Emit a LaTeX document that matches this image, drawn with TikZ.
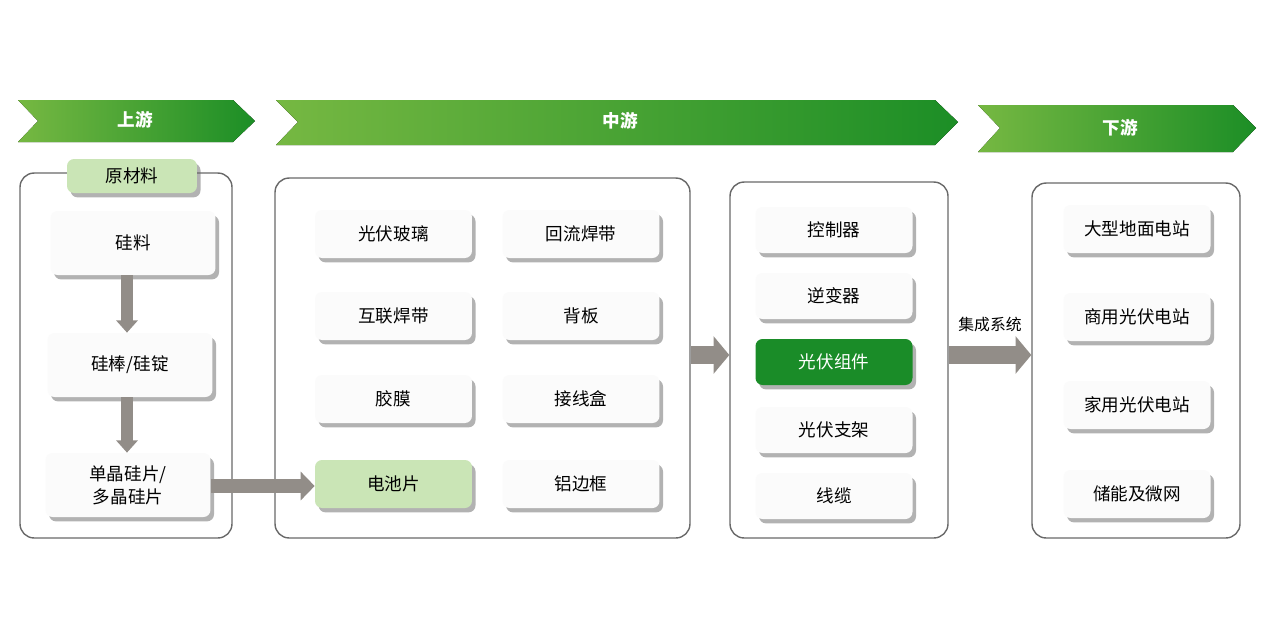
\documentclass[tikz,border=0pt]{standalone}
\usepackage{fontspec}
\setmainfont{Noto Sans CJK SC}
\usetikzlibrary{shadows,arrows.meta}
\definecolor{bandlight}{RGB}{118,184,66}
\definecolor{banddark}{RGB}{28,142,38}
\definecolor{leafgreen}{RGB}{202,229,182}
\definecolor{modgreen}{RGB}{26,140,40}
\definecolor{arrowgray}{RGB}{146,141,136}
\definecolor{framegray}{RGB}{105,105,105}
\tikzset{
  band/.style={left color=bandlight, right color=banddark, draw=none},
  bandtext/.style={text=white, font=\fontsize{10}{12}\selectfont\bfseries},
  frame/.style={draw=framegray, line width=0.8pt, rounded corners=8pt, fill=white},
  item/.style={rectangle, rounded corners=4pt, fill=gray!3, draw=none,
    drop shadow={shadow xshift=2pt, shadow yshift=-2.5pt, fill=black!60},
    minimum height=0.96cm, minimum width=3.14cm, font=\fontsize{10}{13}\selectfont, align=center},
  stepdown/.style={draw=arrowgray, line width=6.5pt, -{Triangle[length=7pt,width=12pt]}},
  stepright/.style={draw=arrowgray, line width=8pt, -{Triangle[length=8pt,width=16pt]}},
  stepwide/.style={draw=arrowgray, line width=10pt, -{Triangle[length=9pt,width=21pt]}}
}
\begin{document}
\begin{tikzpicture}[x=0.02cm,y=-0.02cm]
  \useasboundingbox (0,0) rectangle (1280,640);
  % stage banners
  \fill[band] (18,100) -- (233,100) -- (255,121) -- (233,142) -- (18,142) -- (38,121) -- cycle;
  \fill[band] (276,100) -- (935,100) -- (958,122) -- (935,145) -- (276,145) -- (298,122) -- cycle;
  \fill[band] (978,105) -- (1233,105) -- (1256,128) -- (1233,152) -- (978,152) -- (1000,128) -- cycle;
  \node[bandtext] (up) at (135,120) {上游};
  \node[bandtext] (mid) at (620,121) {中游};
  \node[bandtext] (down) at (1120,128) {下游};
  % frames
  \node[frame, minimum width=4.24cm, minimum height=7.3cm] (upbox) at (126,355.5) {};
  \node[frame, minimum width=8.3cm, minimum height=7.2cm] (midbox) at (482.5,358) {};
  \node[frame, minimum width=4.36cm, minimum height=7.12cm] (modbox) at (839,360) {};
  \node[frame, minimum width=4.16cm, minimum height=7.1cm] (downbox) at (1136,360.5) {};
  % upstream
  \node[item, fill=leafgreen, minimum width=2.6cm, minimum height=0.68cm] (raw) at (132,176) {原材料};
  \node[item, minimum width=3.3cm, minimum height=1.28cm] (silicon) at (133,243) {硅料};
  \node[item, minimum width=3.3cm, minimum height=1.28cm] (rod) at (130,365) {硅棒/硅锭};
  \node[item, minimum width=3.3cm, minimum height=1.28cm] (wafer) at (128,485) {单晶硅片/\\多晶硅片};
  \draw[stepdown] (silicon.south -| 127,0) -- (rod.north -| 127,0);
  \draw[stepdown] (rod.south -| 127,0) -- (wafer.north -| 127,0);
  % midstream materials
  \node[item] (glass) at (393.5,234) {光伏玻璃};
  \node[item] (reflow) at (581,234) {回流焊带};
  \node[item] (ribbon) at (393.5,316) {互联焊带};
  \node[item] (backsheet) at (581,316) {背板};
  \node[item] (film) at (393.5,399) {胶膜};
  \node[item] (jbox) at (581,399) {接线盒};
  \node[item, fill=leafgreen] (cell) at (393.5,484) {电池片};
  \node[item] (alframe) at (581,484) {铝边框};
  \draw[stepright] (wafer.east |- 0,486) -- (cell.west |- 0,486);
  % modules
  \node[item, minimum height=0.92cm] (ctrl) at (834,230) {控制器};
  \node[item, minimum height=0.92cm] (inverter) at (834,296) {逆变器};
  \node[item, minimum height=0.92cm, fill=modgreen, text=white] (module) at (834,362) {光伏组件};
  \node[item, minimum height=0.92cm] (bracket) at (834,430) {光伏支架};
  \node[item, minimum height=0.92cm] (cable) at (834,496) {线缆};
  \draw[stepwide] (midbox.east |- 0,355) -- (modbox.west |- 0,355);
  % downstream
  \node[item, minimum width=2.94cm] (ground) at (1137,229) {大型地面电站};
  \node[item, minimum width=2.94cm] (commercial) at (1137,317) {商用光伏电站};
  \node[item, minimum width=2.94cm] (home) at (1137,405) {家用光伏电站};
  \node[item, minimum width=2.94cm] (storage) at (1137,494) {储能及微网};
  \draw[stepwide] (modbox.east |- 0,355) -- node[above=5pt, font=\fontsize{9}{11}\selectfont] (integ) {集成系统} (downbox.west |- 0,355);
\end{tikzpicture}
\end{document}
